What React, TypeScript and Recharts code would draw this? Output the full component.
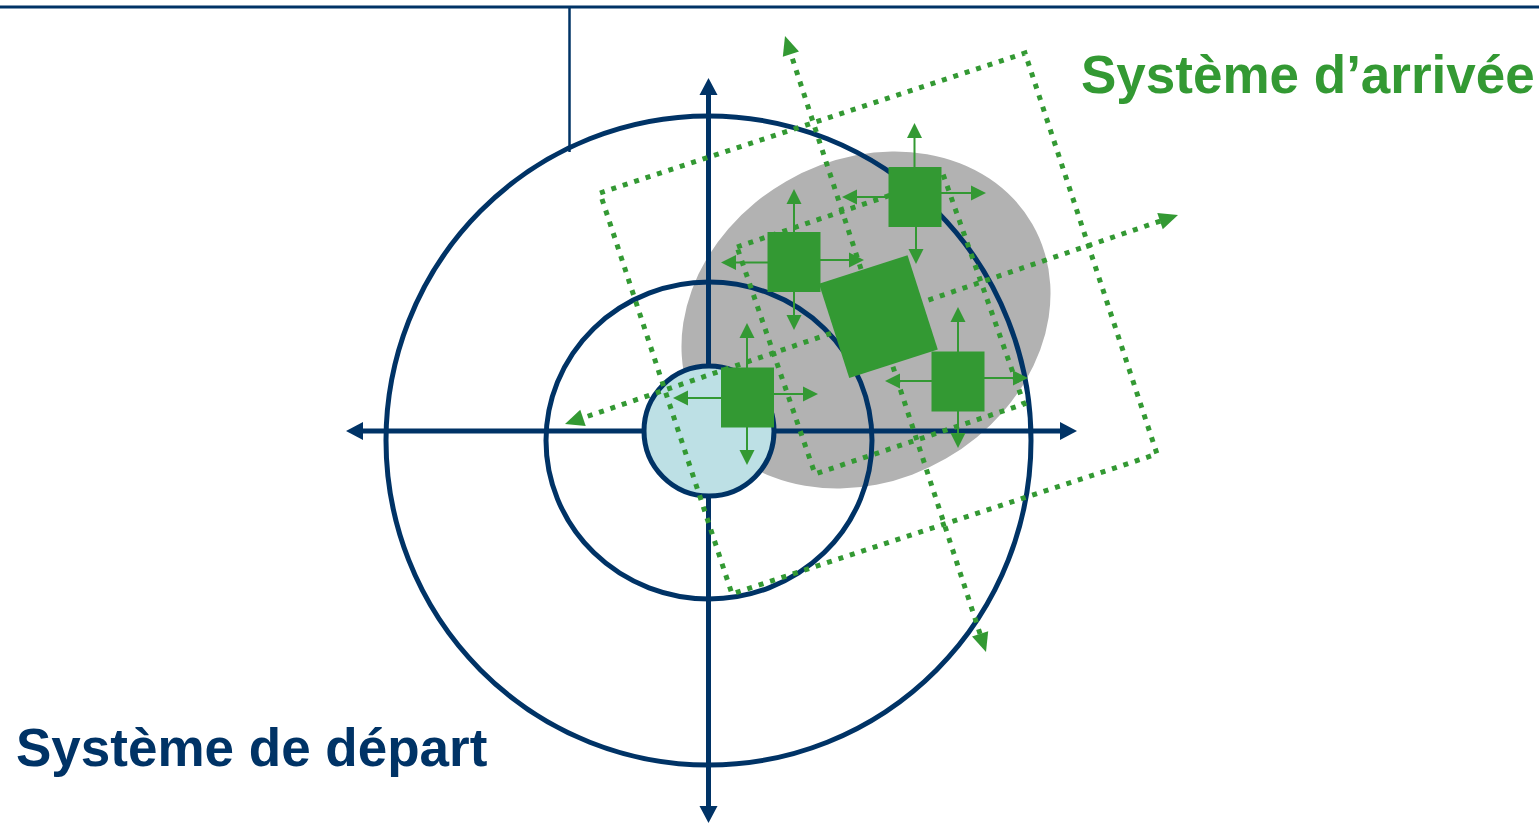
import React from 'react';
import { ComposedChart, Scatter, XAxis, YAxis } from 'recharts';

const W = 1539;
const H = 823;
const BLUE = '#003366';
const GREEN = '#339933';
const GREY = '#b2b2b2';
const PALE = '#bde0e5';

// diagram units are the pixels of the original slide
const xDomain: [number, number] = [0, 1539];
const yDomain: [number, number] = [0, 823];

const headerRule = [{ x: 0, y: 7 }, { x: 1539, y: 7 }];
const leader = [{ x: 569.5, y: 7 }, { x: 569.5, y: 152 }];

const overlapZone = [{ x: 866, y: 320, rx: 192, ry: 160, tilt: -30 }];
const originDisc = [{ x: 709, y: 431, rx: 65, ry: 65, tilt: 0 }];
const rings = [
  { x: 709, y: 440.5, rx: 163, ry: 158.5, tilt: 0 },
  { x: 708.5, y: 440.5, rx: 322.5, ry: 324.5, tilt: 0 },
];

// start axes: both ends carry an arrow
const axisX = [{ x: 346, y: 431 }, { x: 1077, y: 431 }];
const axisY = [{ x: 708.5, y: 78 }, { x: 708.5, y: 823 }];

// arrival system (dotted, rotated)
const arrivalOuter = [
  { x: 600, y: 193 }, { x: 1025, y: 53 }, { x: 1157, y: 454 }, { x: 732, y: 594 }, { x: 600, y: 193 },
];
const arrivalInner = [
  { x: 737, y: 247 }, { x: 944, y: 177 }, { x: 1024, y: 404 }, { x: 815, y: 474 }, { x: 737, y: 247 },
];
const arrivalAxisU = [{ x: 565, y: 424 }, { x: 1178, y: 215 }];
const arrivalAxisV = [{ x: 785, y: 36 }, { x: 986, y: 652 }];

const blocks = [
  { x: 915, y: 197 },
  { x: 794, y: 262 },
  { x: 747.5, y: 397.5 },
  { x: 958, y: 381.5 },
];
const mainBlock = [{ x: 878.4, y: 316.7, tilt: -17.8 }];

const blockArrows = [
  [{ x: 914.5, y: 175 }, { x: 914.5, y: 123 }],
  [{ x: 916, y: 220 }, { x: 916, y: 264 }],
  [{ x: 895, y: 197 }, { x: 842, y: 197 }],
  [{ x: 935, y: 193 }, { x: 986, y: 193 }],

  [{ x: 794, y: 240 }, { x: 794, y: 189 }],
  [{ x: 794, y: 285 }, { x: 794, y: 330 }],
  [{ x: 775, y: 262.5 }, { x: 721, y: 262.5 }],
  [{ x: 814, y: 260 }, { x: 864, y: 260 }],

  [{ x: 747, y: 375 }, { x: 747, y: 323 }],
  [{ x: 747, y: 420 }, { x: 747, y: 465 }],
  [{ x: 728, y: 398 }, { x: 673, y: 398 }],
  [{ x: 767, y: 394 }, { x: 818, y: 394 }],

  [{ x: 958, y: 359 }, { x: 958, y: 307 }],
  [{ x: 958, y: 405 }, { x: 958, y: 448 }],
  [{ x: 939, y: 381 }, { x: 885, y: 381 }],
  [{ x: 978, y: 378 }, { x: 1028, y: 378 }],
];

const arrivalTitle = [{ x: 1081, y: 93, text: 'Système d’arrivée' }];
const startTitle = [{ x: 16, y: 766, text: 'Système de départ' }];

type Pt = { x: number; y: number };
const KX = W / (xDomain[1] - xDomain[0]);
const KY = H / (yDomain[1] - yDomain[0]);

const angleOf = (a: Pt, b: Pt) => (Math.atan2((b.y - a.y) * KY, (b.x - a.x) * KX) * 180) / Math.PI;

// pull the ends of a segment back so the stroke hides under the arrow heads
const trim = (seg: Pt[], a: number, b: number): Pt[] => {
  const [p, q] = seg;
  const dx = q.x - p.x;
  const dy = q.y - p.y;
  const len = Math.hypot(dx, dy);
  return [
    { x: p.x + (dx / len) * a, y: p.y + (dy / len) * a },
    { x: q.x - (dx / len) * b, y: q.y - (dy / len) * b },
  ];
};

const headsOf = (seg: Pt[], both: boolean) => {
  const [p, q] = seg;
  const out = [{ x: q.x, y: q.y, dir: angleOf(p, q) }];
  if (both) out.push({ x: p.x, y: p.y, dir: angleOf(q, p) });
  return out;
};

const Blank = () => <g />;

const ellipseShape = (fill: string, stroke: string, sw: number) => (p: any) => {
  const { cx, cy, payload } = p;
  return (
    <ellipse
      cx={cx}
      cy={cy}
      rx={payload.rx * KX}
      ry={payload.ry * KY}
      transform={`rotate(${payload.tilt} ${cx} ${cy})`}
      fill={fill}
      stroke={stroke}
      strokeWidth={sw}
    />
  );
};

const headShape = (len: number, wid: number, fill: string) => (p: any) => {
  const { cx, cy, payload } = p;
  return (
    <polygon
      points={`0,0 ${-len},${-wid / 2} ${-len},${wid / 2}`}
      transform={`translate(${cx},${cy}) rotate(${payload.dir})`}
      fill={fill}
    />
  );
};

const blockShape = (w: number, h: number) => (p: any) => {
  const { cx, cy, payload } = p;
  return (
    <rect
      x={cx - w / 2}
      y={cy - h / 2}
      width={w}
      height={h}
      fill={GREEN}
      transform={`rotate(${payload.tilt || 0} ${cx} ${cy})`}
    />
  );
};

const titleShape = (color: string) => (p: any) => (
  <text
    x={p.cx}
    y={p.cy}
    fill={color}
    fontFamily='"Liberation Sans", Arial, sans-serif'
    fontWeight="bold"
    fontSize={53}
  >
    {p.payload.text}
  </text>
);

const solid = (color: string, w: number) => ({ stroke: color, strokeWidth: w, fill: 'none' });
const dotted = { stroke: GREEN, strokeWidth: 5, strokeDasharray: '5 7', fill: 'none' };

const App: React.FC = () => {
  const axisHeads = [...headsOf(axisX, true), ...headsOf(axisY, true)];
  const arrivalHeads = [...headsOf(arrivalAxisU, true), ...headsOf(arrivalAxisV, true)];
  const smallHeads = blockArrows.flatMap(s => headsOf(s, false));

  return (
    <div style={{ position: 'absolute', left: 0, top: 0, width: W, height: H, background: '#fff', overflow: 'hidden' }}>
      <ComposedChart width={W} height={H} margin={{ top: 0, right: 0, bottom: 0, left: 0 }}>
        <XAxis type="number" dataKey="x" domain={xDomain} hide allowDataOverflow />
        <YAxis type="number" dataKey="y" domain={yDomain} reversed hide allowDataOverflow />

        <Scatter data={headerRule} line={solid(BLUE, 3)} shape={Blank} isAnimationActive={false} />
        <Scatter data={leader} line={solid(BLUE, 2.5)} shape={Blank} isAnimationActive={false} />

        <Scatter data={overlapZone} shape={ellipseShape(GREY, 'none', 0)} isAnimationActive={false} />
        <Scatter data={rings} shape={ellipseShape('none', BLUE, 5)} isAnimationActive={false} />

        <Scatter data={trim(axisX, 10, 10)} line={solid(BLUE, 5)} shape={Blank} isAnimationActive={false} />
        <Scatter data={trim(axisY, 10, 10)} line={solid(BLUE, 5)} shape={Blank} isAnimationActive={false} />
        <Scatter data={axisHeads} shape={headShape(17, 18, BLUE)} isAnimationActive={false} />

        {/* the origin disc sits over the axes */}
        <Scatter data={originDisc} shape={ellipseShape(PALE, BLUE, 5)} isAnimationActive={false} />

        <Scatter data={arrivalOuter} line={dotted} shape={Blank} isAnimationActive={false} />
        <Scatter data={arrivalInner} line={dotted} shape={Blank} isAnimationActive={false} />
        <Scatter data={trim(arrivalAxisU, 12, 12)} line={dotted} shape={Blank} isAnimationActive={false} />
        <Scatter data={trim(arrivalAxisV, 12, 12)} line={dotted} shape={Blank} isAnimationActive={false} />
        <Scatter data={arrivalHeads} shape={headShape(19, 17, GREEN)} isAnimationActive={false} />

        {blockArrows.map((seg, i) => (
          <Scatter key={`arrow-${i}`} data={trim(seg, 0, 8)} line={solid(GREEN, 2)} shape={Blank} isAnimationActive={false} />
        ))}
        <Scatter data={smallHeads} shape={headShape(15, 15, GREEN)} isAnimationActive={false} />

        <Scatter data={blocks} shape={blockShape(53, 60)} isAnimationActive={false} />
        <Scatter data={mainBlock} shape={blockShape(93, 99)} isAnimationActive={false} />

        <Scatter data={arrivalTitle} shape={titleShape(GREEN)} isAnimationActive={false} />
        <Scatter data={startTitle} shape={titleShape(BLUE)} isAnimationActive={false} />
      </ComposedChart>
    </div>
  );
};

export default App;
